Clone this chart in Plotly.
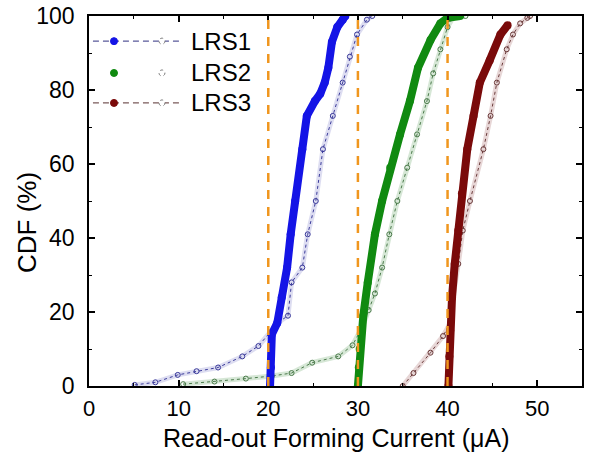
import plotly.graph_objects as go

# ---- data ----
blue_x = [20.2, 20.3, 20.4, 21.0, 21.5, 22.1, 22.5, 23.0, 23.8, 24.3, 25.2, 25.8, 26.3, 26.7, 27.1, 27.7, 28.3, 28.6]
blue_y = [0, 5, 14, 17, 24, 32, 41, 50, 64, 73, 77, 79, 82, 86, 93, 97, 99, 100]
blue_h_x = [5.1, 7.4, 9.9, 12.0, 14.4, 17.1, 18.9, 20.2, 21.0, 22.2, 22.6, 23.8, 24.4, 25.3, 26.1, 27.2, 28.3, 29.1, 29.9, 31.0, 31.6]
blue_h_y = [0.3, 1, 3, 4, 5, 8, 10.8, 14.5, 17, 19, 28, 32, 41, 50, 64, 73, 82, 89, 95, 99, 100]

green_x = [30.0, 30.1, 30.2, 30.6, 31.1, 31.9, 32.7, 33.6, 34.7, 35.8, 36.7, 38.1, 39.2, 40.0, 41.4]
green_y = [0, 5, 10, 19, 28, 41, 50, 59, 68, 77, 86, 93.5, 98, 99.5, 100]
green_h_x = [10.5, 14.0, 17.5, 20.4, 22.6, 24.9, 27.8, 29.4, 30.5, 31.2, 31.9, 32.7, 33.5, 34.4, 35.5, 36.6, 37.7, 38.4, 39.2, 40.0, 40.6, 42.0]
green_h_y = [0.5, 1.2, 2, 2.7, 3.5, 6.3, 8, 11, 16, 20.5, 25, 32, 41, 50, 59, 68, 77, 84.5, 91, 97, 99.5, 100]

red_x = [40.1, 40.2, 40.3, 40.5, 40.8, 41.2, 41.6, 42.2, 42.9, 43.6, 44.7, 45.9, 46.7]
red_y = [0, 8, 15, 24, 33, 42, 52, 64, 73, 82, 88, 95, 97.5]
red_h_x = [35.0, 36.2, 38.1, 39.5, 40.3, 40.6, 41.2, 41.7, 42.5, 44.0, 44.8, 45.5, 46.6, 47.3, 48.1, 48.9, 49.2]
red_h_y = [0, 3.5, 9, 13.5, 17, 24, 33, 42, 50, 64, 73, 82, 91, 95, 98, 99.5, 100]

ref_lines = [20, 30, 40]
series_names = ["LRS1", "LRS2", "LRS3"]
x_title = "Read-out Forming Current (μA)"
y_title = "CDF (%)"

BLUE = "#1414E6"
GREEN = "#108A10"
RED = "#7A0A0A"
ORANGE = "#F0961E"
FONT = "Liberation Sans, Arial, sans-serif"

fig = go.Figure()

def hollow(x, y, color, tint):
    fig.add_trace(go.Scatter(x=x, y=y, mode="lines", line=dict(color=tint, width=5),
                             showlegend=False, hoverinfo="skip"))
    fig.add_trace(go.Scatter(x=x, y=y, mode="lines+markers",
                             line=dict(color=color, width=1, dash="dot"),
                             marker=dict(symbol="circle-open", size=5, color=color, line=dict(width=1)),
                             showlegend=False))

def filled(x, y, color):
    fig.add_trace(go.Scatter(x=x, y=y, mode="lines+markers",
                             line=dict(color=color, width=8),
                             marker=dict(symbol="circle", size=8, color=color),
                             showlegend=False))

hollow(blue_h_x, blue_h_y, "#3A3A9A", "rgba(120,120,200,0.25)")
hollow(green_h_x, green_h_y, "#4A7A4A", "rgba(90,160,90,0.25)")
hollow(red_h_x, red_h_y, "#6A3A3A", "rgba(160,90,90,0.25)")
filled(blue_x, blue_y, BLUE)
filled(green_x, green_y, GREEN)
filled(red_x, red_y, RED)

for xv in ref_lines:
    fig.add_shape(type="line", x0=xv, x1=xv, y0=0, y1=100, xref="x", yref="y",
                  line=dict(color=ORANGE, width=2.5, dash="9px,8px"), layer="above")

# ---- legend (drawn manually: two symbols per entry) ----
leg_y = [0.932, 0.846, 0.765]
leg_cols = [BLUE, GREEN, RED]
leg_line = ["#5A5A9A", None, "#7A5A5A"]
for name, yy, col, lc in zip(series_names, leg_y, leg_cols, leg_line):
    if lc:
        fig.add_shape(type="line", xref="paper", yref="paper", x0=0.008, x1=0.185, y0=yy, y1=yy,
                      line=dict(color=lc, width=1.2, dash="6px,4px"))
    fig.add_shape(type="circle", xref="paper", yref="paper", xsizemode="pixel", ysizemode="pixel",
                  xanchor=0.0507, yanchor=yy, x0=-3.5, x1=3.5, y0=-3.5, y1=3.5,
                  fillcolor=col, line=dict(color=col, width=1))
    fig.add_shape(type="circle", xref="paper", yref="paper", xsizemode="pixel", ysizemode="pixel",
                  xanchor=0.148, yanchor=yy, x0=-3, x1=3, y0=-3, y1=3,
                  fillcolor="white", line=dict(color="#777777", width=1, dash="dot"))
    fig.add_annotation(text=name, xref="paper", yref="paper", x=0.203, y=yy,
                       xanchor="left", yanchor="middle", showarrow=False,
                       font=dict(family=FONT, size=24, color="black"))

# axis titles as annotations for exact placement
fig.add_annotation(text=x_title, xref="paper", yref="paper", x=0.502, y=-0.14,
                   xanchor="center", yanchor="middle", showarrow=False,
                   font=dict(family=FONT, size=25, color="black"))
fig.add_annotation(text=y_title, xref="paper", yref="paper", x=-0.126, y=0.443,
                   xanchor="center", yanchor="middle", showarrow=False, textangle=-90,
                   font=dict(family=FONT, size=26, color="black"))

axis_common = dict(showline=True, linecolor="black", linewidth=1.5, mirror="allticks",
                   ticks="inside", ticklen=6, tickwidth=1.5, tickcolor="black",
                   showgrid=False, zeroline=False, automargin=False)

fig.update_xaxes(range=[0, 55], tick0=0, dtick=10, ticklabelstandoff=2,
                 tickfont=dict(family=FONT, size=22, color="black"),
                 minor=dict(ticks="inside", dtick=5, ticklen=3, tickcolor="black", tickwidth=1.2),
                 **axis_common)
fig.update_yaxes(range=[0, 100], tick0=0, dtick=20, ticklabelstandoff=8,
                 tickfont=dict(family=FONT, size=23, color="black"),
                 minor=dict(ticks="inside", dtick=10, ticklen=3, tickcolor="black", tickwidth=1.2),
                 **axis_common)

fig.update_layout(width=590, height=456, margin=dict(l=89, r=8, t=16, b=70),
                  plot_bgcolor="white", paper_bgcolor="white", showlegend=False)

fig.write_html("out.html")
